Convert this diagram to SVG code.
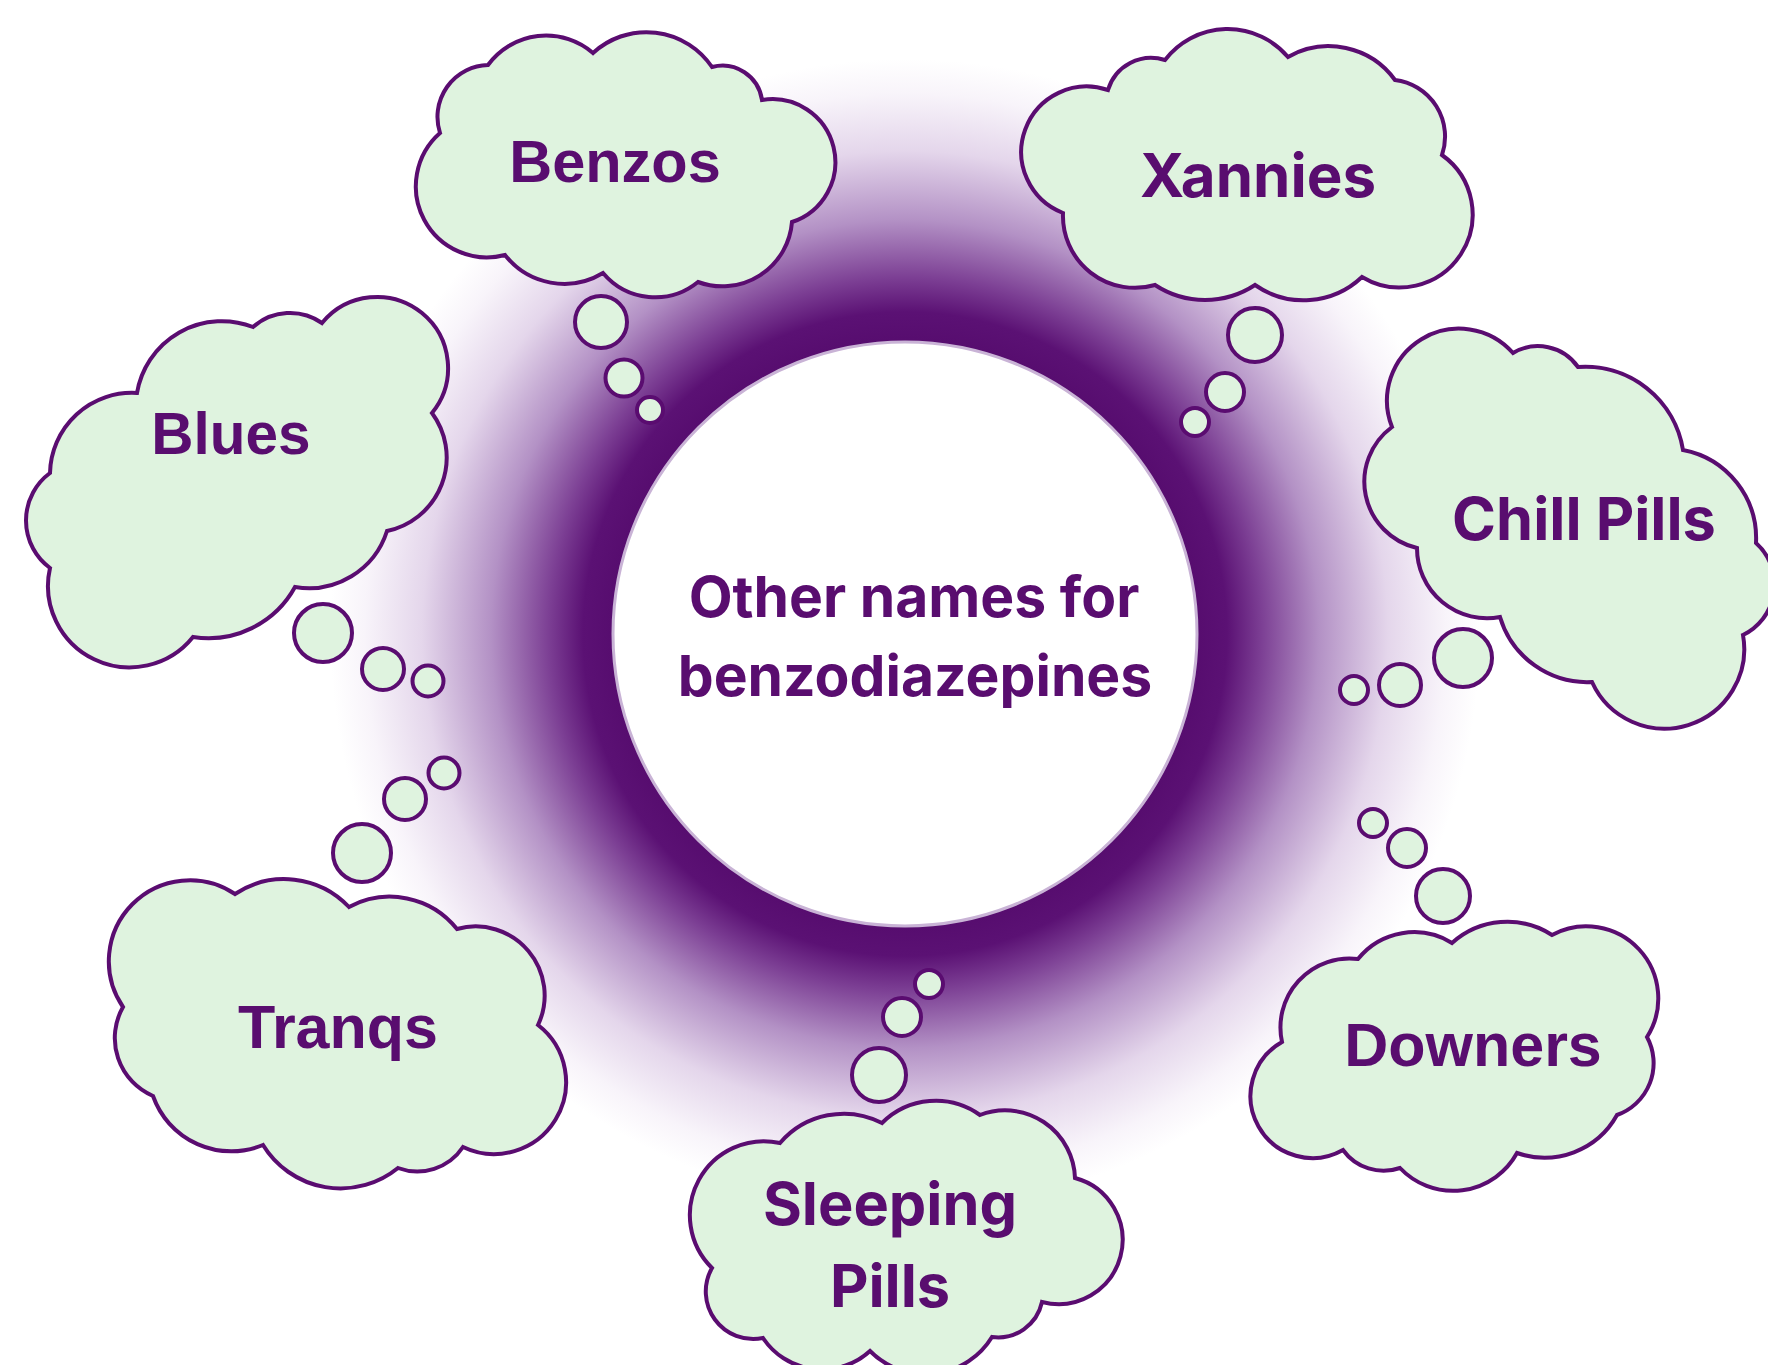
<svg xmlns="http://www.w3.org/2000/svg" width="1768" height="1365" viewBox="0 0 1768 1365">
  <defs>
    <radialGradient id="halo" gradientUnits="userSpaceOnUse" cx="905" cy="634" r="575">
      <stop offset="0" stop-color="#560c6e"/>
      <stop offset="0.5" stop-color="#560c6e"/>
      <stop offset="0.56" stop-color="#5b1174"/>
      <stop offset="0.62" stop-color="#7c3f94"/>
      <stop offset="0.72" stop-color="#b391c5"/>
      <stop offset="0.84" stop-color="#e4d6eb"/>
      <stop offset="0.94" stop-color="#f8f4fa"/>
      <stop offset="1" stop-color="#ffffff"/>
    </radialGradient>
    <style>
      .cloud { fill: #dff3df; stroke: #5a0c70; stroke-width: 4; stroke-linejoin: miter; }
      .bub { fill: #dff3df; stroke: #5a0c70; stroke-width: 4; }
      .lbl-a { font-family: "Liberation Sans", Arial, sans-serif; font-weight: 700; fill: #590d6f; text-anchor: middle; }
      .lbl-i { font-family: Inter, "Liberation Sans", sans-serif; font-weight: 700; fill: #590d6f; text-anchor: middle; }
    </style>
  </defs>
  <rect x="0" y="0" width="1768" height="1365" fill="#ffffff"/>
  <circle cx="905" cy="634" r="575" fill="url(#halo)"/>

  <g id="center">
    <circle cx="905" cy="634" r="292" fill="#ffffff" stroke="#c9b3d6" stroke-width="3"/>
    <text class="lbl-i" x="914" y="617" font-size="57">Other names for</text>
    <text class="lbl-i" x="915" y="696" font-size="57">benzodiazepines</text>
  </g>

  <g id="connectors">
    <circle class="bub" cx="601" cy="322" r="26"/>
    <circle class="bub" cx="624" cy="378" r="18.5"/>
    <circle class="bub" cx="650" cy="410" r="13"/>

    <circle class="bub" cx="1255" cy="335" r="27"/>
    <circle class="bub" cx="1225" cy="392" r="19"/>
    <circle class="bub" cx="1195" cy="422" r="14"/>

    <circle class="bub" cx="323" cy="633" r="29"/>
    <circle class="bub" cx="383" cy="669" r="21"/>
    <circle class="bub" cx="428" cy="681" r="15.5"/>

    <circle class="bub" cx="1463" cy="658" r="29"/>
    <circle class="bub" cx="1400" cy="685" r="21"/>
    <circle class="bub" cx="1354" cy="690" r="14"/>

    <circle class="bub" cx="362" cy="853" r="29"/>
    <circle class="bub" cx="405" cy="799" r="21"/>
    <circle class="bub" cx="444" cy="773" r="15.5"/>

    <circle class="bub" cx="1443" cy="896" r="27"/>
    <circle class="bub" cx="1407" cy="848" r="19"/>
    <circle class="bub" cx="1373" cy="823" r="14"/>

    <circle class="bub" cx="879" cy="1075" r="27"/>
    <circle class="bub" cx="902" cy="1017" r="19"/>
    <circle class="bub" cx="929" cy="984" r="14"/>
  </g>

  <g id="benzos">
    <path class="cloud" d="M488,65 A72,72 0 0 1 593,53 A79,79 0 0 1 712,67 A40,40 0 0 1 762,100 A63,63 0 0 1 792,222 A70,70 0 0 1 698,282 A68,68 0 0 1 603,273 A75,75 0 0 1 505,255 A71,71 0 0 1 440,133 A52,52 0 0 1 488,65 Z"/>
    <text class="lbl-a" x="615" y="182" font-size="59.5">Benzos</text>
  </g>

  <g id="xannies">
    <path class="cloud" d="M1108,90 A45,45 0 0 1 1165,60 A79,79 0 0 1 1288,57 A82,82 0 0 1 1395,80 A57,57 0 0 1 1442,155 A73,73 0 0 1 1362,277 A85,85 0 0 1 1255,285 A91,91 0 0 1 1155,285 A72,72 0 0 1 1063,213 A65.5,65.5 0 0 1 1108,90 Z"/>
    <text class="lbl-i" x="1258" y="197" font-size="60">Xannies</text>
  </g>

  <g id="blues">
    <path class="cloud" d="M137,393 A86,86 0 0 1 253,327 A56,56 0 0 1 322,323 A71,71 0 0 1 432,413 A75,75 0 0 1 387,531 A82,82 0 0 1 295,587 A99,99 0 0 1 193,637 A81.5,81.5 0 0 1 50,568 A59,59 0 0 1 50,473 A82,82 0 0 1 137,393 Z"/>
    <text class="lbl-a" x="231" y="454" font-size="58.5">Blues</text>
  </g>

  <g id="chill-pills">
    <path class="cloud" d="M1392,427 A72,72 0 0 1 1513,353 A49,49 0 0 1 1578,367 A99,99 0 0 1 1683,450 A90,90 0 0 1 1756,543 A56,56 0 0 1 1743,635 A79.7,79.7 0 0 1 1592,682 A91,91 0 0 1 1500,617 A70,70 0 0 1 1417,548 A68,68 0 0 1 1392,427 Z"/>
    <text class="lbl-i" x="1584" y="540" font-size="59.5">Chill Pills</text>
  </g>

  <g id="tranqs">
    <path class="cloud" d="M235,894 A89,89 0 0 1 349,907 A86,86 0 0 1 457,929 A69,69 0 0 1 538,1025 A72,72 0 0 1 463,1147 A55,55 0 0 1 398,1168 A91,91 0 0 1 263,1145 A83,83 0 0 1 153,1096 A63,63 0 0 1 123,1007 A81,81 0 0 1 235,894 Z"/>
    <text class="lbl-a" x="338" y="1048" font-size="61">Tranqs</text>
  </g>

  <g id="downers">
    <path class="cloud" d="M1358,959 A72,72 0 0 1 1452,943 A82.5,82.5 0 0 1 1552,935 A72,72 0 0 1 1647,1037 A55,55 0 0 1 1617,1115 A83,83 0 0 1 1517,1153 A73,73 0 0 1 1400,1168 A50,50 0 0 1 1343,1150 A62,62 0 0 1 1282,1042 A69,69 0 0 1 1358,959 Z"/>
    <text class="lbl-a" x="1473" y="1066" font-size="61">Downers</text>
  </g>

  <g id="sleeping-pills">
    <path class="cloud" d="M780,1143 A84,84 0 0 1 882,1123 A76,76 0 0 1 980,1115 A70,70 0 0 1 1075,1178 A64,64 0 0 1 1042,1302 A45,45 0 0 1 992,1337 A78,78 0 0 1 870,1351 A71,71 0 0 1 763,1338 A47.5,47.5 0 0 1 712,1268 A74,74 0 0 1 780,1143 Z"/>
    <text class="lbl-i" x="890" y="1225" font-size="59.5">Sleeping</text>
    <text class="lbl-i" x="890" y="1307" font-size="59.5">Pills</text>
  </g>
</svg>
